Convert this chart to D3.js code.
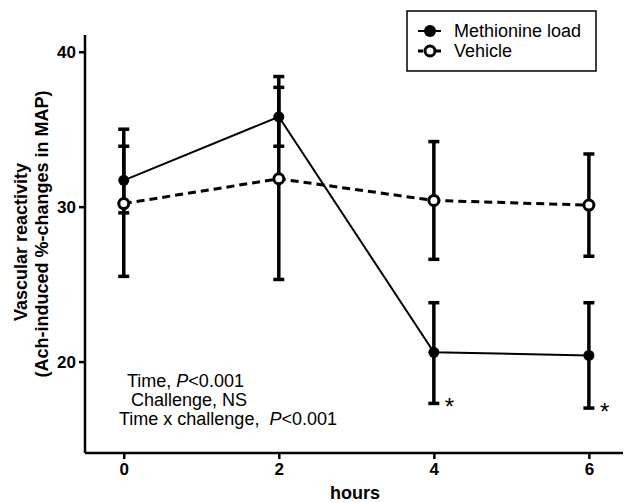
<!DOCTYPE html>
<html>
<head>
<meta charset="utf-8">
<script src="https://cdn.jsdelivr.net/npm/d3@7"></script>
<style>
  body { margin: 0; background: white; }
  svg { font-family: "Liberation Sans", Arial, sans-serif; }
</style>
</head>
<body>
<svg width="624" height="503"></svg>
<script>
// data
var hours = [0, 2, 4, 6];
var methMean = [31.7, 35.8, 20.6, 20.4];
var methLow = [29.6, 33.9, 17.3, 17.0];
var methHigh = [35.0, 38.4, 23.8, 23.8];
var vehMean = [30.2, 31.8, 30.4, 30.1];
var vehLow = [25.5, 25.3, 26.6, 26.8];
var vehHigh = [33.9, 37.7, 34.2, 33.4];
var methSignif = [false, false, true, true];
var yTicks = [20, 30, 40];
var seriesNames = ["Methionine load", "Vehicle"];

var svg = d3.select('svg');

var xScale = d3.scaleLinear()
    .domain([-0.5, 6.44])
    .range([85, 623]);

var yScale = d3.scaleLinear()
    .domain([14.1, 41.08])
    .range([453, 35]);

var xAxis = d3.axisBottom(xScale).tickValues(hours).tickFormat(d3.format("d")).tickSize(6).tickPadding(4);
var yAxis = d3.axisLeft(yScale).tickValues(yTicks).tickFormat(d3.format("d")).tickSize(6).tickPadding(3);

var gx = svg.append("g")
    .attr('transform', 'translate(0, 453)')
    .call(xAxis);
var gy = svg.append("g")
    .attr('transform', 'translate(85, 0)')
    .call(yAxis);

[gx, gy].forEach(function(g) {
    g.select(".domain").attr("stroke-width", 2.5);
    g.selectAll(".tick line").attr("stroke-width", 2.5);
    g.selectAll(".tick text")
        .style("font-size", "17px")
        .style("font-weight", "bold")
        .style("font-family", "Liberation Sans, Arial, sans-serif")
        .attr("fill", "black");
});
gx.select(".domain").attr("d", "M85,0H623");
gy.select(".domain").attr("d", "M0,35V453");

svg.append("text")
    .attr("x", 355)
    .attr("y", 499)
    .attr("text-anchor", "middle")
    .style("font-size", "18px")
    .style("font-weight", "bold")
    .text("hours");

svg.append("text")
    .attr("transform", "translate(27, 242)rotate(-90)")
    .attr("text-anchor", "middle")
    .style("font-size", "18px")
    .style("font-weight", "bold")
    .text("Vascular reactivity");

svg.append("text")
    .attr("transform", "translate(48, 234)rotate(-90)")
    .attr("text-anchor", "middle")
    .style("font-size", "18px")
    .style("font-weight", "bold")
    .text("(Ach-induced %-changes in MAP)");

function makeRows(mean, low, high) {
    return hours.map(function(h, i) {
        return { h: h, mean: mean[i], low: low[i], high: high[i] };
    });
}
var meth = makeRows(methMean, methLow, methHigh);
var veh = makeRows(vehMean, vehLow, vehHigh);

var line = d3.line()
    .x(d => xScale(d.h))
    .y(d => yScale(d.mean));

// error bars
function drawErrors(rows) {
    var g = svg.append("g")
        .attr("stroke", "black")
        .attr("stroke-width", 3.5);
    g.selectAll(".bar")
        .data(rows)
        .enter()
        .append("line")
        .attr("x1", d => xScale(d.h))
        .attr("x2", d => xScale(d.h))
        .attr("y1", d => yScale(d.low))
        .attr("y2", d => yScale(d.high));
    ["low", "high"].forEach(function(k) {
        g.selectAll(".cap-" + k)
            .data(rows)
            .enter()
            .append("line")
            .attr("x1", d => xScale(d.h) - 5.5)
            .attr("x2", d => xScale(d.h) + 5.5)
            .attr("y1", d => yScale(d[k]))
            .attr("y2", d => yScale(d[k]));
    });
}
drawErrors(veh);
drawErrors(meth);

svg.append("path")
    .datum(veh)
    .attr("d", line)
    .attr("fill", "none")
    .attr("stroke", "black")
    .attr("stroke-width", 3)
    .attr("stroke-dasharray", "8,5");

svg.append("path")
    .datum(meth)
    .attr("d", line)
    .attr("fill", "none")
    .attr("stroke", "black")
    .attr("stroke-width", 2);

svg.selectAll(".veh-dot")
    .data(veh)
    .enter()
    .append("circle")
    .attr("cx", d => xScale(d.h))
    .attr("cy", d => yScale(d.mean))
    .attr("r", 5)
    .attr("fill", "white")
    .attr("stroke", "black")
    .attr("stroke-width", 3);

svg.selectAll(".meth-dot")
    .data(meth)
    .enter()
    .append("circle")
    .attr("cx", d => xScale(d.h))
    .attr("cy", d => yScale(d.mean))
    .attr("r", 5.5)
    .attr("fill", "black");

// significance stars
svg.selectAll(".star")
    .data(meth.filter((d, i) => methSignif[i]))
    .enter()
    .append("text")
    .attr("x", d => xScale(d.h) + 11)
    .attr("y", d => yScale(d.low) + 12)
    .style("font-size", "24px")
    .text("*");

// statistics note
var notes = [
    { x: 127, y: 387, parts: [["Time, ", false], ["P", true], ["<0.001", false]] },
    { x: 131, y: 406, parts: [["Challenge, NS", false]] },
    { x: 119, y: 425, parts: [["Time x challenge,  ", false], ["P", true], ["<0.001", false]] }
];
notes.forEach(function(n) {
    var t = svg.append("text")
        .attr("x", n.x)
        .attr("y", n.y)
        .style("font-size", "18px")
        .attr("xml:space", "preserve")
        .style("white-space", "pre");
    n.parts.forEach(function(p) {
        t.append("tspan")
            .style("font-style", p[1] ? "italic" : "normal")
            .text(p[0]);
    });
});

// legend
var legend = svg.append("g");
legend.append("rect")
    .attr("x", 407)
    .attr("y", 11)
    .attr("width", 189)
    .attr("height", 60)
    .attr("fill", "white")
    .attr("stroke", "black")
    .attr("stroke-width", 1.5);

seriesNames.forEach(function(name, i) {
    var cy = 31 + i * 20;
    legend.append("line")
        .attr("x1", 418)
        .attr("x2", 441)
        .attr("y1", cy)
        .attr("y2", cy)
        .attr("stroke", "black")
        .attr("stroke-width", i === 0 ? 2 : 3)
        .attr("stroke-dasharray", i === 0 ? null : "5,4");
    legend.append("circle")
        .attr("cx", 430)
        .attr("cy", cy)
        .attr("r", i === 0 ? 6 : 5)
        .attr("fill", i === 0 ? "black" : "white")
        .attr("stroke", "black")
        .attr("stroke-width", i === 0 ? 0 : 3);
    legend.append("text")
        .attr("x", 454)
        .attr("y", cy + 6)
        .style("font-size", "18px")
        .text(name);
});
</script>
</body>
</html>
